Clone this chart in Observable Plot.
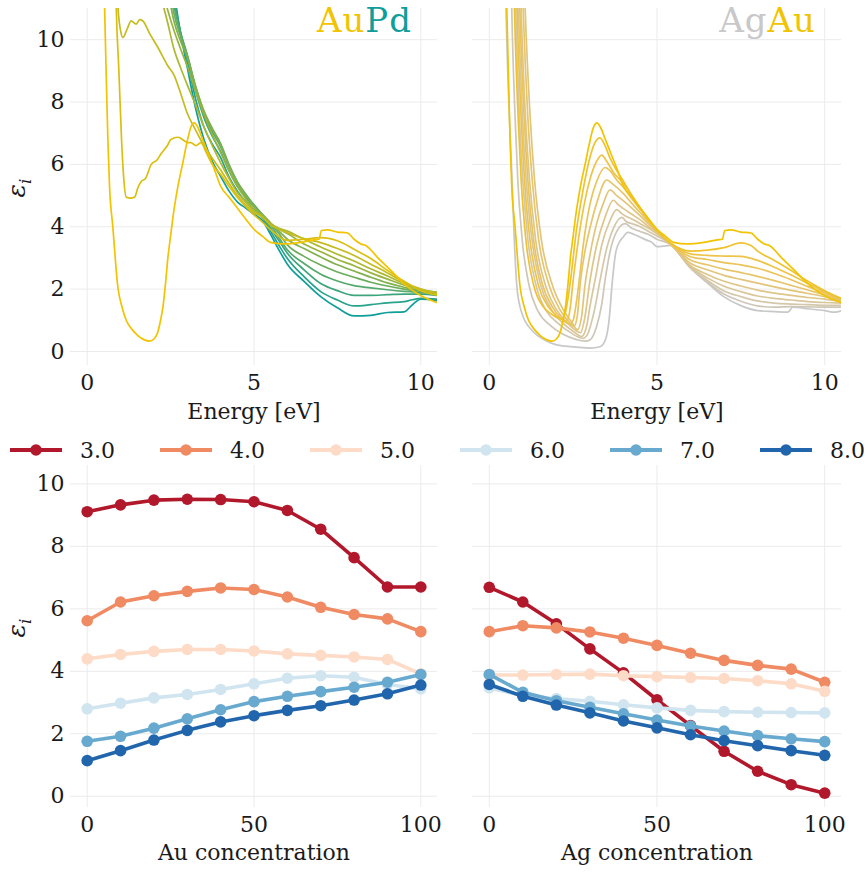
<!DOCTYPE html>
<html><head><meta charset="utf-8">
<script src="https://cdn.jsdelivr.net/npm/d3@7"></script>
<script src="https://cdn.jsdelivr.net/npm/@observablehq/plot@0.6"></script>
<style>
body{margin:0;background:#fff;}
#root{position:relative;width:867px;height:872px;overflow:hidden;font-family:"DejaVu Serif",serif;color:#1a1a1a;}
.panel{position:absolute;}
.ttl{position:absolute;font-size:34px;line-height:normal;letter-spacing:1px;white-space:nowrap;text-align:right;}
.ylab{position:absolute;font-size:25px;line-height:25px;transform:translate(-50%,-50%) rotate(-90deg);white-space:nowrap;font-style:italic;}
.ylab sub{font-size:17px;}
</style></head><body><div id="root"></div>
<script>
// ---------- tick labels ----------
const energyTicks = [0, 5, 10];
const epsTicks = [0, 2, 4, 6, 8, 10];
const concTicks = [0, 50, 100];

// ---------- top panels: spectra (energy in eV, eps_i) ----------
// shared energy grid for the Pd-rich AuPd curves
const gridE = [2.2,2.4,2.6,2.8,3.0,3.25,3.5,3.75,4.0,4.25,4.5,4.75,5.0,5.25,5.5,5.75,6.0,6.5,7.0,7.5,8.0,8.5,9.0,9.5,9.75,10.0,10.5];
const au0pd  = [15.5,13.6,11.6,10.2,9.11,7.8,6.8,6.1,5.62,5.15,4.8,4.6,4.40,4.2,3.75,3.25,2.80,2.25,1.76,1.40,1.14,1.16,1.25,1.27,1.5,1.68,1.63];
const au10pd = [15.0,13.2,11.4,10.2,9.33,8.1,7.2,6.65,6.22,5.6,5.15,4.8,4.54,4.3,3.85,3.4,2.98,2.4,1.92,1.65,1.46,1.5,1.56,1.6,1.66,1.7,1.68];
const au20pd = [14.5,12.9,11.25,10.25,9.48,8.35,7.5,6.9,6.42,5.8,5.3,4.95,4.64,4.35,3.95,3.55,3.15,2.62,2.18,1.95,1.80,1.80,1.82,1.84,1.84,1.84,1.80];
const au30pd = [14.0,12.6,11.1,10.2,9.51,8.45,7.65,7.05,6.56,5.95,5.4,5.0,4.70,4.38,4.05,3.65,3.26,2.82,2.48,2.26,2.11,2.04,1.98,1.93,1.91,1.89,1.85];
const au40pd = [13.6,12.2,10.85,10.1,9.50,8.5,7.7,7.15,6.67,6.0,5.45,5.05,4.70,4.4,4.1,3.78,3.42,3.05,2.77,2.55,2.38,2.22,2.1,2.0,1.96,1.93,1.87];
const au50pd = [13.0,11.7,10.6,9.95,9.43,8.5,7.7,7.15,6.62,5.95,5.4,5.0,4.65,4.4,4.12,3.86,3.60,3.3,3.03,2.78,2.58,2.38,2.2,2.06,2.0,1.96,1.88];
const au60pd = [11.8,11.0,10.3,9.7,9.15,8.35,7.6,6.95,6.38,5.8,5.3,4.9,4.56,4.36,4.1,3.92,3.78,3.45,3.20,2.95,2.75,2.52,2.32,2.13,2.05,1.98,1.9];
const au70pd = [11.4,10.6,9.7,9.1,8.55,7.9,7.2,6.6,6.05,5.55,5.1,4.8,4.51,4.33,4.1,3.95,3.86,3.6,3.35,3.12,2.90,2.65,2.42,2.18,2.08,2.0,1.88];
const au80E = [0.85,0.92,1.0,1.07,1.2,1.32,1.47,1.57,1.67,1.87,2.12,2.41,2.61,2.81,3.0,3.25,3.5,3.75,4.0,4.25,4.5,4.75,5.0,5.25,5.5,5.75,6.0,6.5,7.0,7.5,8.0,8.5,9.0,9.5,10.0,10.5];
const au80V = [14,11.1,10.3,10.07,10.35,10.6,10.5,10.64,10.6,10.2,9.75,9.17,8.85,8.25,7.64,7.1,6.6,6.2,5.82,5.4,5.0,4.7,4.46,4.3,4.05,3.92,3.81,3.62,3.49,3.3,3.08,2.8,2.52,2.22,2.0,1.85];
const au90E = [0.82,0.87,0.95,1.03,1.1,1.17,1.3,1.42,1.52,1.62,1.75,1.92,2.1,2.22,2.4,2.51,2.72,2.92,3.0,3.11,3.26,3.41,3.56,3.75,4.0,4.25,4.5,4.75,5.0,5.25,5.5,6.0,6.5,7.0,7.5,8.0,8.5,9.0,9.5,10.0,10.5];
const au90V = [14,11.1,9.0,6.8,5.5,4.95,4.92,4.95,5.25,5.45,5.55,6.0,6.15,6.35,6.6,6.8,6.87,6.75,6.70,6.7,6.6,6.7,6.4,6.0,5.68,5.3,4.95,4.65,4.38,4.15,3.9,3.56,3.6,3.65,3.55,3.28,2.98,2.6,2.25,1.95,1.8];
// pure gold (shared by both panels)
const auE = [0.45,0.52,0.57,0.62,0.67,0.77,0.92,1.05,1.17,1.35,1.52,1.7,1.87,2.0,2.11,2.2,2.27,2.35,2.42,2.5,2.57,2.72,2.87,2.97,3.11,3.21,3.31,3.46,3.61,3.81,4.0,4.25,4.5,4.75,5.0,5.25,5.5,5.9,6.4,6.8,6.95,7.02,7.2,7.5,7.8,8.0,8.2,8.35,8.7,9.1,9.5,9.9,10.5];
const auV = [14,11.1,8.9,6.8,5.3,3.98,2.06,1.4,1.0,0.7,0.51,0.38,0.33,0.4,0.6,1.0,1.42,2.2,3.02,3.7,4.3,5.3,6.07,6.6,7.2,7.33,7.2,6.8,6.39,5.85,5.3,4.95,4.6,4.25,3.92,3.7,3.5,3.45,3.5,3.58,3.6,3.88,3.9,3.83,3.8,3.6,3.45,3.4,3.02,2.6,2.17,1.85,1.56];

// AgAu alloys (Ag concentration in name)
const ag10E = [0.69,0.75,0.86,0.95,1.09,1.33,1.6,1.85,2.05,2.17,2.28,2.42,2.6,2.8,3.0,3.15,3.3,3.45,3.6,3.8,4.0,4.25,4.5,4.75,5.0,5.4,6.0,6.5,7.0,7.5,7.8,8.0,8.5,9.0,9.5,10.0,10.5];
const ag10V = [14,11,7.5,5.5,3.6,2.1,1.45,1.2,1.07,1.05,1.3,2.27,3.9,5.2,6.22,6.7,6.85,6.6,6.2,5.8,5.46,5.0,4.6,4.2,3.88,3.48,3.22,3.25,3.33,3.48,3.4,3.22,2.92,2.6,2.25,1.95,1.7];
const ag20E = [0.77,0.83,0.95,1.05,1.21,1.47,1.75,2.0,2.2,2.3,2.4,2.5,2.7,3.0,3.2,3.35,3.5,3.7,4.0,4.25,4.5,4.75,5.0,5.4,6.0,6.5,7.0,7.5,8.0,8.5,9.0,9.5,10.0,10.5];
const ag20V = [14,11,7.5,5.5,3.6,2.1,1.45,1.15,1.0,0.97,1.3,2.27,3.9,5.52,6.1,6.3,6.1,5.75,5.39,5.0,4.6,4.25,3.90,3.47,3.13,3.08,3.06,3.05,2.92,2.7,2.45,2.18,1.92,1.68];
const ag30E = [0.84,0.91,1.04,1.15,1.32,1.6,1.9,2.15,2.4,2.5,2.6,2.68,2.8,3.0,3.2,3.45,3.6,3.8,4.0,4.25,4.5,4.75,5.0,5.4,6.0,6.5,7.0,7.5,8.0,8.5,9.0,9.5,10.0,10.5];
const ag30V = [14,11,7.5,5.5,3.6,2.1,1.4,1.05,0.88,1.0,1.6,2.27,3.4,4.72,5.45,5.9,5.8,5.5,5.26,4.9,4.55,4.2,3.91,3.46,3.04,2.95,2.85,2.78,2.67,2.5,2.3,2.08,1.88,1.66];
const ag40E = [0.93,1.01,1.15,1.28,1.47,1.79,2.1,2.35,2.52,2.62,2.72,2.85,3.0,3.2,3.5,3.7,4.0,4.25,4.5,4.75,5.0,5.4,6.0,6.5,7.0,7.5,8.0,8.5,9.0,9.5,10.0,10.5];
const ag40V = [14,11,7.5,5.5,3.6,2.1,1.35,0.98,0.8,1.1,2.27,3.2,3.95,4.75,5.5,5.35,5.06,4.75,4.45,4.15,3.86,3.45,2.93,2.78,2.64,2.53,2.41,2.27,2.12,1.97,1.82,1.64];
const ag50E = [0.99,1.07,1.22,1.35,1.55,1.89,2.2,2.45,2.63,2.75,2.85,3.0,3.2,3.4,3.6,3.8,4.0,4.25,4.5,4.75,5.0,5.4,6.0,6.5,7.0,7.5,8.0,8.5,9.0,9.5,10.0,10.5];
const ag50V = [14,11,7.5,5.5,3.6,2.1,1.35,0.95,0.7,1.1,2.1,3.09,4.1,4.75,5.18,5.0,4.83,4.6,4.35,4.08,3.83,3.45,2.83,2.62,2.44,2.31,2.19,2.07,1.96,1.86,1.76,1.62];
const ag60E = [0.88,0.95,1.08,1.2,1.38,1.68,2.0,2.3,2.55,2.72,2.85,3.0,3.2,3.45,3.7,3.85,4.0,4.25,4.5,4.75,5.0,5.4,6.0,6.5,7.0,7.5,8.0,8.5,9.0,9.5,10.0,10.5];
const ag60V = [14,11,7.5,5.5,3.6,2.1,1.35,0.95,0.7,0.6,1.1,2.26,3.4,4.3,4.85,4.7,4.58,4.4,4.22,4.0,3.80,3.45,2.75,2.47,2.25,2.1,1.97,1.87,1.8,1.73,1.68,1.6];
const ag70E = [0.8,0.87,0.99,1.1,1.27,1.54,1.85,2.2,2.5,2.75,2.9,3.0,3.15,3.35,3.6,3.8,3.95,4.1,4.25,4.5,4.75,5.0,5.4,6.0,6.5,7.0,7.5,8.0,8.5,9.0,9.5,10.0,10.5];
const ag70V = [14,11,7.5,5.5,3.6,2.1,1.35,0.9,0.65,0.48,0.8,1.44,2.27,3.4,4.2,4.55,4.42,4.32,4.25,4.1,3.95,3.77,3.45,2.71,2.36,2.09,1.92,1.78,1.7,1.65,1.6,1.57,1.55];
const ag80E = [0.73,0.79,0.9,1.0,1.15,1.4,1.7,2.0,2.4,2.8,2.95,3.05,3.15,3.3,3.5,3.7,3.95,4.1,4.25,4.5,4.75,5.0,5.4,6.0,6.5,7.0,7.5,8.0,8.5,9.0,9.5,10.0,10.5];
const ag80V = [14,11,7.5,5.5,3.6,2.1,1.3,0.95,0.62,0.42,0.6,0.95,1.4,2.27,3.3,3.95,4.3,4.15,4.1,4.0,3.85,3.70,3.45,2.69,2.28,1.94,1.76,1.62,1.55,1.52,1.5,1.48,1.48];
const ag90E = [0.62,0.67,0.77,0.85,0.98,1.19,1.45,1.8,2.2,2.6,2.85,3.0,3.2,3.35,3.45,3.6,3.8,4.05,4.25,4.5,4.75,5.0,5.4,6.0,6.5,7.0,7.5,8.0,8.5,9.0,9.5,10.0,10.5];
const ag90V = [14,11,7.5,5.5,3.6,2.1,1.3,0.85,0.55,0.38,0.33,0.37,0.8,1.5,2.27,3.2,3.85,4.1,3.95,3.85,3.75,3.60,3.44,2.68,2.22,1.84,1.61,1.46,1.42,1.44,1.43,1.42,1.42];
const ag100E = [0.45,0.5,0.6,0.68,0.73,0.83,0.98,1.28,1.68,1.98,2.48,3.0,3.3,3.47,3.57,3.67,3.77,3.9,4.0,4.12,4.3,4.47,4.67,4.85,5.0,5.2,5.4,6.0,6.5,7.0,7.5,8.0,8.5,8.9,9.05,9.5,10.0,10.3,10.5];
const ag100V = [14,11,7.5,5.5,4.0,2.0,1.2,0.67,0.35,0.22,0.15,0.11,0.15,0.4,0.99,2.27,3.18,3.55,3.68,3.82,3.76,3.68,3.58,3.5,3.36,3.38,3.4,2.67,2.2,1.75,1.47,1.31,1.28,1.26,1.42,1.37,1.31,1.26,1.31];

// ---------- bottom panels: eps_i at fixed energies vs concentration ----------
const conc = [0,10,20,30,40,50,60,70,80,90,100];
const energyLabels = ["3.0","4.0","5.0","6.0","7.0","8.0"];
const energyColors = ["#b2182b","#ef8a62","#fddbc7","#d1e5f0","#67a9cf","#2166ac"];
const aupd3 = [9.11,9.33,9.48,9.51,9.50,9.43,9.15,8.55,7.64,6.70,6.70];
const aupd4 = [5.62,6.22,6.42,6.56,6.67,6.62,6.38,6.05,5.82,5.68,5.27];
const aupd5 = [4.40,4.54,4.64,4.70,4.70,4.65,4.56,4.51,4.46,4.38,3.92];
const aupd6 = [2.80,2.98,3.15,3.26,3.42,3.60,3.78,3.86,3.81,3.58,3.44];
const aupd7 = [1.76,1.92,2.18,2.48,2.77,3.03,3.20,3.35,3.49,3.65,3.90];
const aupd8 = [1.14,1.46,1.80,2.11,2.38,2.58,2.75,2.90,3.08,3.28,3.56];
const agau3 = [6.69,6.22,5.52,4.72,3.95,3.09,2.26,1.44,0.80,0.37,0.10];
const agau4 = [5.27,5.46,5.39,5.26,5.06,4.83,4.58,4.35,4.19,4.07,3.65];
const agau5 = [3.88,3.88,3.90,3.91,3.86,3.83,3.80,3.77,3.70,3.60,3.36];
const agau6 = [3.47,3.22,3.13,3.04,2.93,2.83,2.75,2.71,2.69,2.68,2.67];
const agau7 = [3.90,3.33,3.06,2.85,2.64,2.44,2.25,2.09,1.94,1.84,1.75];
const agau8 = [3.58,3.20,2.92,2.67,2.41,2.19,1.97,1.78,1.62,1.46,1.31];

// ---------- colours ----------
const AU = "#f2c300", PD = "#109e9a", AG = "#c8c8c8";
const gridColor = "#ebebeb";
const FONT = "DejaVu Serif";
const auPdColor = d3.interpolateRgb(PD, AU);   // t = Au fraction
const agAuColor = d3.interpolateLab(AU, AG);   // t = Ag fraction

const rows = (E, V) => E.map((e, i) => ({E: e, v: V[i]}));

const auPdCurves = [
  {E: gridE, V: au0pd, t: 0}, {E: gridE, V: au10pd, t: .1}, {E: gridE, V: au20pd, t: .2},
  {E: gridE, V: au30pd, t: .3}, {E: gridE, V: au40pd, t: .4}, {E: gridE, V: au50pd, t: .5},
  {E: gridE, V: au60pd, t: .6}, {E: gridE, V: au70pd, t: .7}, {E: au80E, V: au80V, t: .8},
  {E: au90E, V: au90V, t: .9}, {E: auE, V: auV, t: 1}
].map(c => ({...c, color: auPdColor(c.t)}));

const agAuCurves = [
  {E: ag100E, V: ag100V, t: 1}, {E: ag90E, V: ag90V, t: .9}, {E: ag80E, V: ag80V, t: .8},
  {E: ag70E, V: ag70V, t: .7}, {E: ag60E, V: ag60V, t: .6}, {E: ag50E, V: ag50V, t: .5},
  {E: ag40E, V: ag40V, t: .4}, {E: ag30E, V: ag30V, t: .3}, {E: ag20E, V: ag20V, t: .2},
  {E: ag10E, V: ag10V, t: .1}, {E: auE, V: auV, t: 0}
].map(c => ({...c, color: agAuColor(c.t)}));

const root = document.getElementById("root");
function place(node, left, top) {
  node.classList.add("panel");
  node.style.left = left + "px";
  node.style.top = top + "px";
  root.appendChild(node);
}

const baseStyle = {fontFamily: FONT, fontSize: "22px", color: "#1a1a1a", background: "transparent", overflow: "visible"};

function topChart(curves, withY) {
  const marks = [
    Plot.gridX(energyTicks, {stroke: gridColor, strokeOpacity: 1, strokeWidth: 1}),
    Plot.gridY(epsTicks, {stroke: gridColor, strokeOpacity: 1, strokeWidth: 1}),
    ...curves.map(c => Plot.line(rows(c.E, c.V), {x: "E", y: "v", stroke: c.color, strokeWidth: 1.7, curve: "monotone-x", clip: true})),
    Plot.axisX(energyTicks, {tickSize: 0, tickPadding: 9, fontSize: 22, label: "Energy [eV]", labelAnchor: "center", labelOffset: 53, labelArrow: "none"})
  ];
  if (withY) marks.push(Plot.axisY(epsTicks, {tickSize: 0, tickPadding: 6, fontSize: 22, label: null}));
  return Plot.plot({
    width: withY ? 440 : 437, height: 430,
    marginLeft: withY ? 70 : 42, marginRight: withY ? 3 : 26, marginTop: 8, marginBottom: 65,
    style: baseStyle,
    x: {domain: [-0.5, 10.5]},
    y: {domain: [-0.45, 11], axis: withY ? undefined : null},
    marks
  });
}

function bottomChart(series, xLabel, withY) {
  const marks = [
    Plot.gridX(concTicks, {stroke: gridColor, strokeOpacity: 1, strokeWidth: 1}),
    Plot.gridY(epsTicks, {stroke: gridColor, strokeOpacity: 1, strokeWidth: 1})
  ];
  series.forEach((vals, i) => {
    const data = rows(conc, vals);
    marks.push(Plot.line(data, {x: "E", y: "v", stroke: energyColors[i], strokeWidth: 3.6}));
    marks.push(Plot.dot(data, {x: "E", y: "v", fill: energyColors[i], r: 5.8}));
  });
  marks.push(Plot.axisX(concTicks, {tickSize: 0, tickPadding: 9, fontSize: 22, label: xLabel, labelAnchor: "center", labelOffset: 52, labelArrow: "none"}));
  if (withY) marks.push(Plot.axisY(epsTicks, {tickSize: 0, tickPadding: 6, fontSize: 22, label: null}));
  return Plot.plot({
    width: withY ? 440 : 437, height: 410,
    marginLeft: withY ? 70 : 42, marginRight: withY ? 3 : 26, marginTop: 3, marginBottom: 65,
    style: baseStyle,
    x: {domain: [-5, 105]},
    y: {domain: [-0.36, 10.59], axis: withY ? undefined : null},
    marks
  });
}

place(topChart(auPdCurves, true), 0, 0);
place(topChart(agAuCurves, false), 430, 0);
place(bottomChart([aupd3, aupd4, aupd5, aupd6, aupd7, aupd8], "Au concentration", true), 0, 462);
place(bottomChart([agau3, agau4, agau5, agau6, agau7, agau8], "Ag concentration", false), 430, 462);

// panel titles
function title(parts, right) {
  const d = document.createElement("div");
  d.className = "ttl";
  d.style.right = (867 - right) + "px";
  d.style.top = "0px";
  parts.forEach(([txt, col]) => {
    const s = document.createElement("span");
    s.textContent = txt; s.style.color = col; d.appendChild(s);
  });
  root.appendChild(d);
}
title([["Au", AU], ["Pd", PD]], 412);
title([["Ag", AG], ["Au", AU]], 816);

// y labels
function ylab(cy) {
  const d = document.createElement("div");
  d.className = "ylab";
  d.style.left = "21px"; d.style.top = cy + "px";
  d.innerHTML = "ε<sub>i</sub>";
  root.appendChild(d);
}
ylab(188); ylab(628);

// legend
const leg = d3.create("svg").attr("width", 867).attr("height", 36)
  .style("position", "absolute").style("left", "0px").style("top", "432px");
const items = leg.selectAll("g").data(energyLabels).join("g")
  .attr("transform", (d, i) => `translate(${10 + 150 * i},0)`);
items.append("line").attr("x1", 0).attr("x2", 52).attr("y1", 18).attr("y2", 18)
  .attr("stroke", (d, i) => energyColors[i]).attr("stroke-width", 4);
items.append("circle").attr("cx", 26).attr("cy", 18).attr("r", 5.8).attr("fill", (d, i) => energyColors[i]);
items.append("text").attr("x", 70).attr("y", 18).attr("dy", "0.36em")
  .style("font-family", FONT).style("font-size", "22px").attr("fill", "#1a1a1a").text(d => d);
root.appendChild(leg.node());
</script></body></html>
